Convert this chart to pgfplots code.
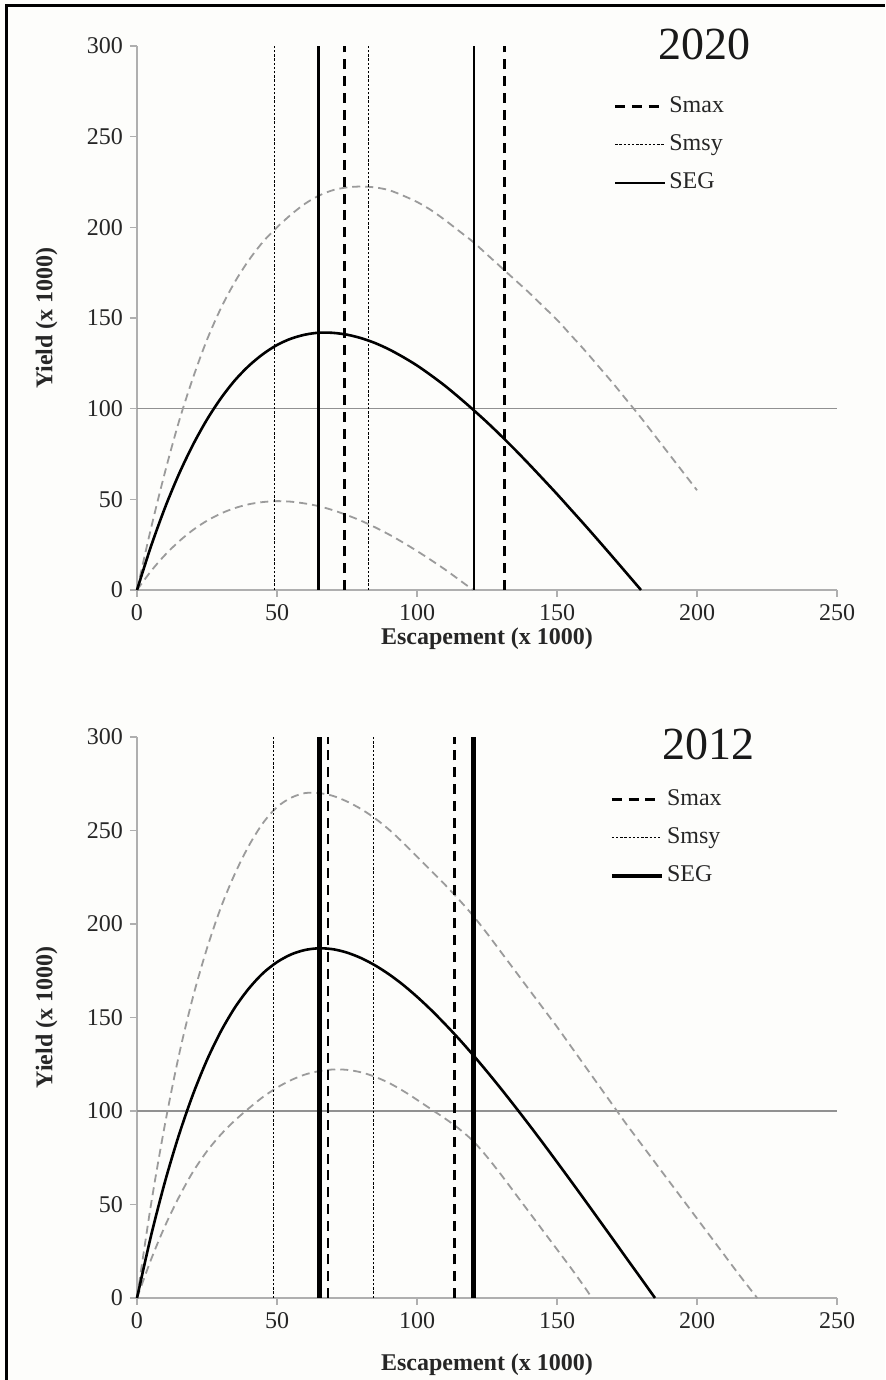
\documentclass[border=0pt]{standalone}
\usepackage{fontspec}
\setmainfont{Liberation Serif}
\usepackage{pgfplots}
\pgfplotsset{compat=1.18}
\definecolor{axisgray}{RGB}{175,175,175}
\definecolor{hgray}{RGB}{145,145,145}
\definecolor{cgray}{RGB}{155,155,155}
\definecolor{bgcol}{RGB}{253,253,251}
\pgfplotsset{
  panel/.style={
    scale only axis, width=350pt,
    xmin=0, xmax=250, ymin=0, ymax=300,
    axis x line*=bottom, axis y line*=left,
    x axis line style={draw=axisgray, line width=1.1pt, -},
    y axis line style={draw=axisgray, line width=0.6pt, -},
    xtick={0,50,...,250}, ytick={0,50,...,300},
    tick align=outside, major tick length=3.5pt,
    every tick/.style={draw=axisgray, line width=0.6pt},
    ticklabel style={font=\fontsize{12}{12}\selectfont, text=black!85},
    /pgf/number format/assume math mode=true,
    xlabel={\textbf{Escapement (x 1000)}},
    ylabel={\textbf{Yield (x 1000)}},
    label style={font=\fontsize{12}{12}\selectfont, text=black!85},
    clip=false,
    legend cell align=left,
    legend style={draw=none, fill=none, font=\fontsize{12}{12}\selectfont, anchor=north west,
      row sep=4pt, nodes={text height=9pt, text depth=3pt, inner sep=1.5pt, text=black!85}},
    legend image code/.code={\draw[##1] (0pt,0pt) -- (25pt,0pt);},
  },
  grayc/.style={draw=cgray, line width=0.9pt, dash pattern=on 4pt off 2.5pt, smooth, forget plot},
  mainc/.style={draw=black, line width=1.3pt, smooth, forget plot},
  smsyl/.style={draw=black, line width=0.6pt, dash pattern=on 1.2pt off 0.9pt},
}
\begin{document}
\begin{tikzpicture}
\useasboundingbox (0,0) rectangle (442.5pt,690pt);
\fill[bgcol] (0,0) rectangle (442.5pt,690pt);
\draw[line width=1.5pt] (3pt,0) -- (3pt,687pt) -- (442.5pt,687pt);

% ---------------- 2020 ----------------
\begin{axis}[panel, at={(68.5pt,395pt)}, anchor=south west, height=272pt,
  xlabel style={at={(axis description cs:0.5,-0.089)}, anchor=center},
  ylabel style={at={(axis description cs:-0.129,0.5)}, anchor=center},
  legend style={at={(axis description cs:0.672,0.924)}}]
\addplot[draw=hgray, line width=0.8pt, forget plot] coordinates {(0,100) (250,100)};
\addplot[grayc] coordinates {(0,0) (5,34) (10,65) (15,93) (20,117) (25,138) (30,155.5) (35,170) (40,182) (45,192) (50,200) (55,207) (60,213) (65,217.5) (70,220.5) (75,222) (80,222.5) (85,222) (90,220.5) (95,217.5) (100,214) (105,209.5) (110,204) (115,198) (120,192) (125,185) (130,178) (135,171) (140,164) (145,156.5) (150,149) (155,140.5) (160,132) (165,123) (170,114) (175,104.5) (180,95) (185,85) (190,75) (195,65) (200,55)};
\addplot[grayc] coordinates {(0,0) (5,10.4) (10,19.3) (15,26.8) (20,33.1) (25,38.2) (30,42.2) (35,45.2) (40,47.3) (45,48.5) (50,49) (55,48.7) (60,47.7) (65,46.2) (70,44) (75,41.3) (80,38.2) (85,34.6) (90,30.6) (95,26.2) (100,21.5) (105,16.5) (110,11.3) (115,5.7) (120,0)};
\addplot[mainc] coordinates {(0,0) (5,24.1) (10,45.4) (15,64) (20,80.1) (25,94) (30,105.8) (35,115.7) (40,123.7) (45,130.1) (50,135.1) (55,138.6) (60,140.8) (65,141.9) (70,141.8) (75,140.8) (80,138.9) (85,136.2) (90,132.7) (95,128.5) (100,123.8) (105,118.4) (110,112.6) (115,106.2) (120,99.5) (125,92.5) (130,85.1) (135,77.4) (140,69.4) (145,61.2) (150,52.9) (155,44.3) (160,35.7) (165,26.9) (170,18) (175,9) (180,0)};
\addplot[draw=black, line width=1.3pt, dash pattern=on 5pt off 3.4pt] coordinates {(74,0) (74,300)};
\addlegendentry{Smax}
\addplot[smsyl] coordinates {(49.2,0) (49.2,300)};
\addlegendentry{Smsy}
\addplot[draw=black, line width=1.2pt] coordinates {(64.8,0) (64.8,300)};
\addlegendentry{SEG}
\addplot[draw=black, line width=1.3pt, dash pattern=on 5pt off 3.4pt, forget plot] coordinates {(131.3,0) (131.3,300)};
\addplot[smsyl, forget plot] coordinates {(82.8,0) (82.8,300)};
\addplot[draw=black, line width=1.2pt, forget plot] coordinates {(120.3,0) (120.3,300)};
\node[font=\fontsize{23}{23}\selectfont, text=black!90] at (axis description cs:0.811,1.002) {2020};
\end{axis}

% ---------------- 2012 ----------------
\begin{axis}[panel, at={(68.5pt,41pt)}, anchor=south west, height=280.5pt,
  xlabel style={at={(axis description cs:0.5,-0.119)}, anchor=center},
  ylabel style={at={(axis description cs:-0.129,0.5)}, anchor=center},
  legend style={at={(axis description cs:0.666,0.9225)}}]
\addplot[draw=hgray, line width=0.8pt, forget plot] coordinates {(0,100) (250,100)};
\addplot[grayc] coordinates {(0,0) (5,50) (10,93) (15,130) (20,161) (25,187) (30,209) (35,227) (40,242) (45,254) (50,262.5) (55,267.5) (60,270) (65,270) (70,268.5) (75,265.5) (80,261.5) (85,256.5) (90,250.5) (95,243.5) (100,236) (105,228.5) (110,221) (115,213) (120,204.5) (125,195) (130,185) (135,175) (140,165) (145,155) (150,145) (155,134.5) (160,124) (165,113.5) (170,103) (175,92.5) (180,82.5) (185,72.5) (190,62.5) (195,52.5) (200,42.5) (205,32.5) (210,22.5) (215,12.5) (221.5,0)};
\addplot[grayc] coordinates {(0,0) (5,20.5) (10,38.5) (15,54) (20,67.5) (25,78.5) (30,87.5) (35,95) (40,101.5) (45,107.5) (50,112.5) (55,116.5) (60,119.5) (65,121.3) (70,122.2) (75,122) (80,120.7) (85,118.3) (90,115) (95,110.8) (100,106) (105,101) (110,96) (115,90.5) (120,84) (125,75.5) (130,66) (135,56) (140,46) (145,36) (150,26) (155,16) (160,5.5) (162.5,0)};
\addplot[mainc] coordinates {(0,0) (5,33.2) (10,62.2) (15,87.3) (20,108.9) (25,127.3) (30,142.7) (35,155.4) (40,165.6) (45,173.7) (50,179.6) (55,183.7) (60,186.1) (65,187) (70,186.5) (75,184.7) (80,181.8) (85,177.9) (90,173.1) (95,167.5) (100,161.1) (105,154.1) (110,146.5) (115,138.5) (120,130) (125,121.1) (130,111.9) (135,102.4) (140,92.7) (145,82.8) (150,72.7) (155,62.5) (160,52.2) (165,41.8) (170,31.4) (175,20.9) (180,10.5) (185,0)};
\addplot[draw=black, line width=1.4pt, dash pattern=on 5pt off 3.4pt] coordinates {(68.2,0) (68.2,300)};
\addlegendentry{Smax}
\addplot[smsyl] coordinates {(48.8,0) (48.8,300)};
\addlegendentry{Smsy}
\addplot[draw=black, line width=2.2pt] coordinates {(65.2,0) (65.2,300)};
\addlegendentry{SEG}
\addplot[draw=black, line width=1.4pt, dash pattern=on 5pt off 3.4pt, forget plot] coordinates {(113.4,0) (113.4,300)};
\addplot[smsyl, forget plot] coordinates {(84.6,0) (84.6,300)};
\addplot[draw=black, line width=2.2pt, forget plot] coordinates {(120.2,0) (120.2,300)};
\node[font=\fontsize{23}{23}\selectfont, text=black!90] at (axis description cs:0.816,0.986) {2012};
\end{axis}
\end{tikzpicture}
\end{document}
